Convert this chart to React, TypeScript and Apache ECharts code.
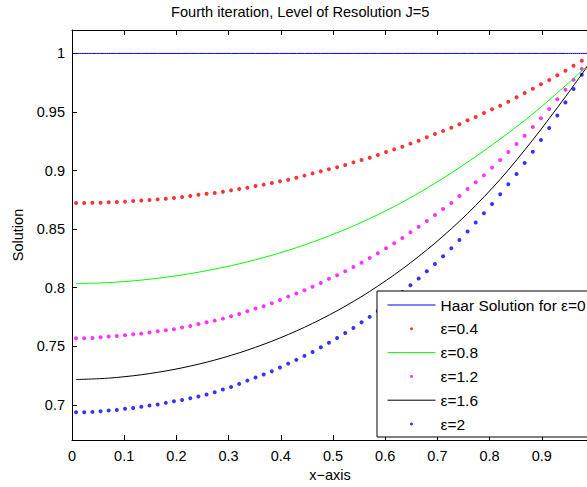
import React, { useEffect, useRef } from "react";
import * as echarts from "echarts";

// collocation points (64) used by the dotted series
const xDots = [
  0.0078, 0.0234, 0.0391, 0.0547, 0.0703, 0.0859, 0.1016, 0.1172, 0.1328, 0.1484,
  0.1641, 0.1797, 0.1953, 0.2109, 0.2266, 0.2422, 0.2578, 0.2734, 0.2891, 0.3047,
  0.3203, 0.3359, 0.3516, 0.3672, 0.3828, 0.3984, 0.4141, 0.4297, 0.4453, 0.4609,
  0.4766, 0.4922, 0.5078, 0.5234, 0.5391, 0.5547, 0.5703, 0.5859, 0.6016, 0.6172,
  0.6328, 0.6484, 0.6641, 0.6797, 0.6953, 0.7109, 0.7266, 0.7422, 0.7578, 0.7734,
  0.7891, 0.8047, 0.8203, 0.8359, 0.8516, 0.8672, 0.8828, 0.8984, 0.9141, 0.9297,
  0.9453, 0.9609, 0.9766, 0.9922,
];

// eps = 0.4 (red dots)
const eps04 = [
  0.8723, 0.8724, 0.8725, 0.8726, 0.8729, 0.8732, 0.8735, 0.874, 0.8744, 0.8749,
  0.8754, 0.876, 0.8766, 0.8774, 0.8783, 0.8793, 0.8803, 0.8809, 0.882, 0.8831,
  0.8843, 0.8854, 0.8868, 0.888, 0.8894, 0.8908, 0.8922, 0.8939, 0.8957, 0.8976,
  0.8994, 0.9011, 0.9028, 0.9048, 0.907, 0.909, 0.911, 0.9133, 0.9158, 0.9181,
  0.9204, 0.923, 0.9255, 0.9284, 0.9312, 0.9338, 0.9366, 0.9395, 0.9429, 0.9457,
  0.9491, 0.9523, 0.9554, 0.9588, 0.9625, 0.9662, 0.9699, 0.9736, 0.9773, 0.9813,
  0.9852, 0.9895, 0.9938, 0.9981,
];

// eps = 1.2 (magenta dots)
const eps12 = [
  0.7569, 0.7569, 0.7571, 0.7577, 0.7583, 0.7588, 0.7594, 0.7603, 0.7608, 0.7617,
  0.7628, 0.7637, 0.7645, 0.766, 0.7674, 0.7691, 0.7705, 0.7719, 0.7736, 0.7756,
  0.7776, 0.7799, 0.7822, 0.7842, 0.7867, 0.7896, 0.7924, 0.795, 0.7978, 0.8009,
  0.8041, 0.8076, 0.8106, 0.814, 0.8177, 0.8214, 0.8254, 0.8294, 0.8336, 0.8379,
  0.8425, 0.8473, 0.8521, 0.857, 0.8621, 0.8672, 0.8723, 0.8783, 0.8843, 0.89,
  0.8959, 0.9025, 0.909, 0.9158, 0.9227, 0.9298, 0.9372, 0.9446, 0.9525, 0.9608,
  0.969, 0.9776, 0.9867, 0.9958,
];

// eps = 2 (blue dots)
const eps2 = [
  0.6937, 0.6937, 0.694, 0.6946, 0.6951, 0.6957, 0.6966, 0.6974, 0.6983, 0.6994,
  0.7003, 0.7017, 0.7031, 0.7042, 0.7057, 0.7071, 0.7088, 0.7108, 0.7131, 0.7153,
  0.7179, 0.7207, 0.7233, 0.7259, 0.7287, 0.7318, 0.7352, 0.7384, 0.7418, 0.7452,
  0.7492, 0.753, 0.7571, 0.7614, 0.7657, 0.7705, 0.7751, 0.7801, 0.7853, 0.7907,
  0.7963, 0.8021, 0.8078, 0.814, 0.8203, 0.8268, 0.8336, 0.8408, 0.8479, 0.8556,
  0.8635, 0.8715, 0.8797, 0.8883, 0.8971, 0.9065, 0.9161, 0.9261, 0.9363, 0.9471,
  0.9582, 0.9696, 0.9818, 0.9944,
];

// points used by the solid lines
const xLine = [
  0.0078, 0.0703, 0.1328, 0.1953, 0.2578, 0.3203, 0.3828, 0.4453, 0.5078,
  0.5703, 0.6328, 0.6953, 0.7578, 0.8203, 0.8828, 0.9453, 0.9922,
];
const haar = [1, 1, 1, 1, 1, 1, 1, 1, 1, 1, 1, 1, 1, 1, 1, 1, 1];
const eps08 = [
  0.8035, 0.8044, 0.8065, 0.8099, 0.8145, 0.8204, 0.8277, 0.8365, 0.8469,
  0.859, 0.873, 0.8891, 0.9072, 0.9269, 0.9484, 0.9724, 0.9914,
];
const eps16 = [
  0.7216, 0.7228, 0.7257, 0.7302, 0.7364, 0.7444, 0.7543, 0.7662, 0.7803,
  0.7968, 0.816, 0.838, 0.8633, 0.8925, 0.9262, 0.963, 0.992,
];

const yTicks = [0.7, 0.75, 0.8, 0.85, 0.9, 0.95, 1];
const seriesNames = [
  "Haar Solution for ε=0",
  "ε=0.4",
  "ε=0.8",
  "ε=1.2",
  "ε=1.6",
  "ε=2",
];

const FONT = "'Liberation Sans', Arial, Helvetica, sans-serif";

function zip(xs: number[], ys: number[]) {
  return xs.map((x, i) => [x, ys[i]]);
}

export default function App() {
  const ref = useRef<HTMLDivElement>(null);
  useEffect(() => {
    document.body.style.margin = "0";
    if (!ref.current) return;
    const chart = echarts.init(ref.current, null, { renderer: "svg" });
    const lineSeries = (name: string, ys: number[], color: string) => ({
      name,
      type: "line",
      data: zip(xLine, ys),
      showSymbol: false,
      symbol: "none",
      smooth: 0.3,
      lineStyle: { color, width: 1 },
      itemStyle: { color },
      xAxisIndex: 0,
      yAxisIndex: 0,
    });
    const dotSeries = (name: string, ys: number[], color: string) => ({
      name,
      type: "scatter",
      data: zip(xDots, ys),
      symbol: "circle",
      symbolSize: 4,
      itemStyle: { color },
      xAxisIndex: 0,
      yAxisIndex: 0,
    });
    const axisCommon = {
      axisLine: { show: true, onZero: false, lineStyle: { color: "#000", width: 1 } },
      splitLine: { show: false },
    };
    chart.setOption({
      animation: false,
      backgroundColor: "#ffffff",
      textStyle: { fontFamily: FONT },
      title: {
        text: "Fourth iteration, Level of Resolution J=5",
        left: 171,
        top: 4,
        padding: 0,
        textStyle: { fontSize: 14.6, fontWeight: "normal", color: "#000", fontFamily: FONT },
      },
      grid: {
        left: 72,
        top: 30,
        right: -7,
        bottom: 47,
        containLabel: false,
        outerBoundsMode: "none",
      },
      xAxis: [
        {
          type: "value",
          min: 0,
          max: 1,
          interval: 0.1,
          position: "bottom",
          ...axisCommon,
          axisTick: { show: true, inside: true, length: 5, lineStyle: { color: "#000" } },
          axisLabel: {
            color: "#000",
            fontSize: 14.5,
            margin: 8,
            fontFamily: FONT,
            showMaxLabel: false,
          },
          name: "x−axis",
          nameLocation: "middle",
          nameGap: 26,
          nameTextStyle: { color: "#000", fontSize: 14.5, fontFamily: FONT, padding: [0, 6, 0, 0] },
        },
        {
          type: "value",
          min: 0,
          max: 1,
          interval: 0.1,
          position: "top",
          ...axisCommon,
          axisTick: { show: true, inside: true, length: 5, lineStyle: { color: "#000" } },
          axisLabel: { show: false },
        },
      ],
      yAxis: [
        {
          type: "value",
          min: 0.67,
          max: 1.02,
          position: "left",
          ...axisCommon,
          axisTick: {
            show: true,
            inside: true,
            length: 5,
            customValues: yTicks,
            lineStyle: { color: "#000" },
          },
          axisLabel: {
            color: "#000",
            fontSize: 14.5,
            margin: 7,
            fontFamily: FONT,
            customValues: yTicks,
            formatter: (v: number) => String(+v.toFixed(2)),
          },
          name: "Solution",
          nameLocation: "middle",
          nameGap: 46,
          nameTextStyle: { color: "#000", fontSize: 14.5, fontFamily: FONT },
        },
      ],
      legend: {
        orient: "vertical",
        left: 377,
        top: 291,
        padding: [6, 12, 5, 10],
        itemGap: 7.8,
        itemWidth: 48,
        itemHeight: 3,
        itemTextGap: 5,
        backgroundColor: "#ffffff",
        borderColor: "#000",
        borderWidth: 1,
        borderRadius: 0,
        selectedMode: false,
        lineStyle: { width: 1 },
        textStyle: { fontSize: 15.5, color: "#000", fontFamily: FONT, lineHeight: 16 },
        data: [
          { name: seriesNames[0], itemStyle: { opacity: 0 } },
          { name: seriesNames[1], icon: "circle" },
          { name: seriesNames[2], itemStyle: { opacity: 0 } },
          { name: seriesNames[3], icon: "circle" },
          { name: seriesNames[4], itemStyle: { opacity: 0 } },
          { name: seriesNames[5], icon: "circle" },
        ],
      },
      series: [
        lineSeries(seriesNames[0], haar, "#0000ff"),
        dotSeries(seriesNames[1], eps04, "#ff0000"),
        lineSeries(seriesNames[2], eps08, "#00ff00"),
        dotSeries(seriesNames[3], eps12, "#ff00ff"),
        lineSeries(seriesNames[4], eps16, "#000000"),
        dotSeries(seriesNames[5], eps2, "#0000ff"),
      ],
    });
    return () => chart.dispose();
  }, []);
  return <div ref={ref} style={{ width: 587, height: 487 }} />;
}
